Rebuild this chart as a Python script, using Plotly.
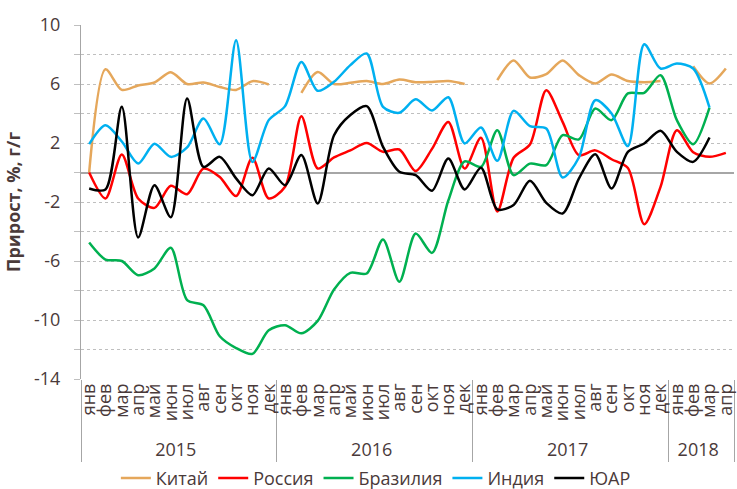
import plotly.graph_objects as go

# ---- data ----
month_names = ["янв", "фев", "мар", "апр", "май", "июн", "июл", "авг", "сен", "окт", "ноя", "дек"]
years = ["2015"] * 12 + ["2016"] * 12 + ["2017"] * 12 + ["2018"] * 4
months = month_names * 3 + month_names[:4]

china = [0, 7.0, 5.6, 5.9, 6.1, 6.8, 6.0, 6.1, 5.8, 5.6, 6.19, 5.97,
         None, 5.4, 6.82, 6.0, 6.08, 6.2, 6.0, 6.3, 6.12, 6.14, 6.2, 6.0,
         None, 6.26, 7.6, 6.44, 6.67, 7.6, 6.6, 6.03, 6.64, 6.2, 6.12, 6.2,
         None, 7.2, 6.03, 7.05]
russia = [0, -1.76, 1.22, -1.76, -2.4, -0.9, -1.47, 0.27, -0.3, -1.6, 1.0, -1.76,
          -0.97, 3.82, 0.27, 1.02, 1.5, 2.0, 1.4, 1.56, 0.1, 1.6, 3.43, 0.27,
          2.35, -2.65, 1.0, 1.9, 5.58, 3.43, 1.17, 1.5, 0.9, 0.3, -3.5, -0.97,
          2.87, 1.37, 1.06, 1.33]
brazil = [-4.75, -5.9, -6.0, -6.96, -6.5, -5.1, -8.65, -9.0, -11.1, -11.9, -12.3, -10.7,
          -10.35, -10.9, -10.06, -7.93, -6.8, -6.85, -4.54, -7.41, -4.14, -5.45, -1.9, 0.75,
          0.38, 2.87, -0.18, 0.6, 0.5, 2.53, 2.24, 4.34, 3.55, 5.36, 5.4, 6.6,
          3.55, 1.92, 4.4, None]
india = [1.92, 3.2, 2.1, 0.61, 1.95, 1.06, 1.7, 3.66, 1.92, 8.97, 0.72, 3.55,
         4.5, 7.5, 5.54, 6.15, 7.28, 8.07, 4.45, 4.05, 4.96, 4.2, 5.1, 1.97,
         3.05, 0.79, 4.18, 3.14, 2.98, -0.34, 1.02, 4.9, 4.0, 1.79, 8.7, 7.05,
         7.39, 7.05, 4.4, None]
rsa = [-1.08, -1.15, 4.45, -4.4, -0.86, -3.03, 5.02, 0.38, 1.06, -0.4, -1.54, 0.27,
       -0.86, 1.18, -2.1, 2.53, 3.9, 4.5, 1.74, 0.05, -0.18, -1.24, 0.95, -1.15,
       0.32, -2.5, -2.2, -0.56, -2.06, -2.78, -0.41, 1.24, -1.08, 1.4, 1.97, 2.83,
       1.4, 0.72, 2.37, None]

series_names = ["Китай", "Россия", "Бразилия", "Индия", "ЮАР"]
series_values = [china, russia, brazil, india, rsa]
series_colors = ["#E5A75B", "#FF0000", "#00B050", "#00B0F0", "#000000"]

y_tick_vals = [-14, -12, -10, -8, -6, -4, -2, 0, 2, 4, 6, 8, 10]
y_tick_text = ["-14", "", "-10", "", "-6", "", "-2", "", "2", "", "6", "", "10"]
y_title = "Прирост, %, г/г"

TEXT = "#4a3a3a"
GRID = "#BFBFBF"
AXIS = "#A6A6A6"
FONT = "Open Sans"

fig = go.Figure()
for name, vals, col in zip(series_names, series_values, series_colors):
    fig.add_trace(go.Scatter(
        x=[years, months], y=vals, name=name, mode="lines",
        line=dict(color=col, width=2.5, shape="spline", smoothing=0.8),
        connectgaps=False,
    ))

n = len(months)
ylo, yhi = y_tick_vals[0], y_tick_vals[-1]

fig.update_layout(
    template="none",
    width=737, height=489,
    margin=dict(l=81, r=3, t=25, b=110),
    plot_bgcolor="white", paper_bgcolor="white",
    font=dict(family=FONT, color=TEXT, size=16),
    showlegend=True,
    legend=dict(orientation="h", xref="container", yref="container",
                x=0.51, xanchor="center", y=0.022, yanchor="middle",
                font=dict(size=18, color=TEXT), itemwidth=30, tracegroupgap=0,
                bgcolor="rgba(0,0,0,0)"),
    xaxis=dict(type="multicategory", range=[-0.5, n - 0.5], autorange=False,
               tickmode="linear", tick0=0, dtick=1,
               tickangle=-90, ticks="", showgrid=False, showline=False, zeroline=False,
               showdividers=True, dividercolor=AXIS, dividerwidth=1,
               tickfont=dict(size=18, color=TEXT), automargin=False),
    xaxis2=dict(overlaying="x", anchor="free", position=(0 - ylo) / (yhi - ylo),
                range=[-0.5, n - 0.5], autorange=False, tickmode="linear",
                tick0=-0.5, dtick=1, ticks="outside", ticklen=5, tickcolor=AXIS,
                showticklabels=False, showgrid=False, zeroline=False, showline=False,
                automargin=False),
    xaxis3=dict(overlaying="x", anchor="y", side="bottom",
                range=[-0.5, n - 0.5], autorange=False, tickmode="linear",
                tick0=-0.5, dtick=1, ticks="outside", ticklen=46, tickcolor=AXIS,
                showticklabels=False, showgrid=False, zeroline=False, showline=False,
                automargin=False),
    yaxis=dict(range=[ylo, yhi], autorange=False, tickmode="array",
               tickvals=y_tick_vals, ticktext=y_tick_text,
               showgrid=True, gridcolor=GRID, gridwidth=1, griddash="3px,3px",
               zeroline=True, zerolinecolor=AXIS, zerolinewidth=1.5,
               showline=True, linecolor=AXIS, linewidth=1,
               ticks="outside", ticklen=6, tickcolor=GRID,
               tickfont=dict(size=18, color=TEXT), ticklabelstandoff=10,
               title=dict(text=y_title, font=dict(size=18, color=TEXT, weight="bold"), standoff=8),
               automargin=False),
)

fig.write_html("out.html", config={"displayModeBar": False},
               post_script="document.body.style.margin='0';")
